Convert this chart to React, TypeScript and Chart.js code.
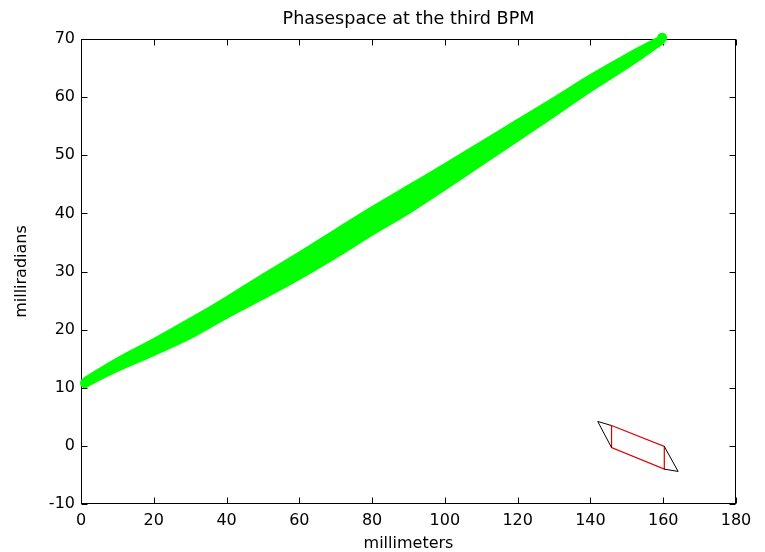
import React, { useEffect, useRef } from "react";
import { Chart, registerables } from "chart.js";

Chart.register(...registerables);

const chartTitle = "Phasespace at the third BPM";
const xAxisLabel = "millimeters";
const yAxisLabel = "milliradians";

const xTicks = [0, 20, 40, 60, 80, 100, 120, 140, 160, 180];
const yTicks = [-10, 0, 10, 20, 30, 40, 50, 60, 70];

// green particle band: upper and lower edges
const bandX = [1, 10, 20, 30, 40, 50, 60, 70, 80, 90, 100, 110, 120, 130, 140, 150, 160];
const bandUpper = [11.6, 15.0, 18.3, 21.8, 25.5, 29.4, 33.2, 37.1, 41.0, 44.7, 48.4, 52.2, 56.0, 59.8, 63.7, 67.3, 70.6];
const bandLower = [10.2, 13.0, 15.7, 18.6, 22.1, 25.4, 28.8, 32.5, 36.4, 40.1, 44.2, 48.4, 52.6, 56.8, 61.1, 65.1, 69.4];
const bandEndsX = [1.1, 159.7];
const bandEndsY = [10.8, 70.2];

// acceptance parallelogram (black outer corners, red inner)
const outerLeftX = [145.8, 142.0, 145.8];
const outerLeftY = [-0.3, 4.2, 3.5];
const outerRightX = [160.3, 164.1, 160.3];
const outerRightY = [-0.1, -4.4, -4.0];
const innerX = [145.8, 160.3, 160.3, 145.8, 145.8];
const innerY = [3.5, -0.1, -4.0, -0.3, 3.5];

const GREEN = "#00ff00";
const RED = "rgb(220,0,0)";
const FONT = "'DejaVu Sans', 'Liberation Sans', Arial, sans-serif";

const pts = (xs: number[], ys: number[]) => xs.map((x, i) => ({ x, y: ys[i] }));

const framePlugin = {
  id: "matlabFrame",
  beforeDatasetsDraw(chart: any) {
    const { ctx, chartArea, scales } = chart;
    const L = Math.round(chartArea.left) + 0.5;
    const R = Math.round(chartArea.right) - 0.5;
    const T = Math.round(chartArea.top) + 0.5;
    const B = Math.round(chartArea.bottom) - 0.5;
    const len = 6;
    ctx.save();
    ctx.strokeStyle = "#000";
    ctx.lineWidth = 1;
    ctx.strokeRect(L, T, R - L, B - T);
    ctx.beginPath();
    for (const v of xTicks) {
      const px = Math.round(scales.x.getPixelForValue(v)) + 0.5;
      ctx.moveTo(px, B);
      ctx.lineTo(px, B - len);
      ctx.moveTo(px, T);
      ctx.lineTo(px, T + len);
    }
    for (const v of yTicks) {
      const py = Math.round(scales.y.getPixelForValue(v)) + 0.5;
      ctx.moveTo(L, py);
      ctx.lineTo(L + len, py);
      ctx.moveTo(R, py);
      ctx.lineTo(R - len, py);
    }
    ctx.stroke();
    ctx.restore();
  },
};

const edgeStyle = {
  borderColor: GREEN,
  backgroundColor: GREEN,
  borderWidth: 3,
  pointRadius: 0,
  tension: 0.4,
  cubicInterpolationMode: "monotone" as const,
  clip: 10,
  borderCapStyle: "round" as const,
  borderJoinStyle: "round" as const,
};

export default function App() {
  const ref = useRef<HTMLCanvasElement | null>(null);

  useEffect(() => {
    if (!ref.current) return;
    const chart = new Chart(ref.current, {
      type: "line",
      data: {
        datasets: [
          { label: "band upper", data: pts(bandX, bandUpper), ...edgeStyle, fill: false },
          { label: "band lower", data: pts(bandX, bandLower), ...edgeStyle, fill: "-1" },
          {
            label: "band ends",
            data: pts(bandEndsX, bandEndsY),
            showLine: false,
            pointRadius: 5,
            pointBorderWidth: 0,
            pointBackgroundColor: GREEN,
            borderColor: GREEN,
            clip: 10,
          },
          {
            label: "outer left",
            data: pts(outerLeftX, outerLeftY),
            borderColor: "#000",
            borderWidth: 1,
            pointRadius: 0,
            fill: false,
            tension: 0,
          },
          {
            label: "outer right",
            data: pts(outerRightX, outerRightY),
            borderColor: "#000",
            borderWidth: 1,
            pointRadius: 0,
            fill: false,
            tension: 0,
          },
          {
            label: "inner",
            data: pts(innerX, innerY),
            borderColor: RED,
            borderWidth: 1.2,
            pointRadius: 0,
            fill: false,
            tension: 0,
          },
        ],
      },
      options: {
        animation: false,
        responsive: true,
        maintainAspectRatio: false,
        parsing: false as any,
        layout: { padding: { left: 0, right: 29, top: 0, bottom: 0 } },
        plugins: {
          legend: { display: false },
          tooltip: { enabled: false },
          title: {
            display: true,
            text: chartTitle,
            fullSize: false,
            color: "#000",
            font: { family: FONT, size: 17.6, weight: "normal", lineHeight: 1.2 },
            padding: { top: 8.4, bottom: 9.5 },
          },
        },
        scales: {
          x: {
            type: "linear",
            min: 0,
            max: 180,
            grid: { display: false, drawTicks: false },
            border: { display: false },
            afterBuildTicks: (s: any) => {
              s.ticks = xTicks.map((v) => ({ value: v }));
            },
            afterFit: (s: any) => {
              s.height = 48;
            },
            ticks: {
              color: "#000",
              padding: 7,
              maxRotation: 0,
              autoSkip: false,
              font: { family: FONT, size: 16 },
            },
            title: {
              display: true,
              text: xAxisLabel,
              color: "#000",
              font: { family: FONT, size: 16, lineHeight: 1 },
              padding: 0,
            },
          },
          y: {
            type: "linear",
            min: -10,
            max: 70,
            grid: { display: false, drawTicks: false },
            border: { display: false },
            afterBuildTicks: (s: any) => {
              s.ticks = yTicks.map((v) => ({ value: v }));
            },
            afterFit: (s: any) => {
              s.width = 81;
            },
            ticks: {
              color: "#000",
              padding: 6,
              autoSkip: false,
              font: { family: FONT, size: 16 },
            },
            title: {
              display: true,
              text: yAxisLabel,
              color: "#000",
              font: { family: FONT, size: 16, lineHeight: 1.2 },
              padding: { top: 12.4, bottom: 0 },
            },
          },
        },
      },
      plugins: [framePlugin],
    });
    return () => chart.destroy();
  }, []);

  return (
    <div style={{ position: "absolute", left: 0, top: 0, width: 765, height: 552, background: "#fff" }}>
      <canvas ref={ref} />
    </div>
  );
}
